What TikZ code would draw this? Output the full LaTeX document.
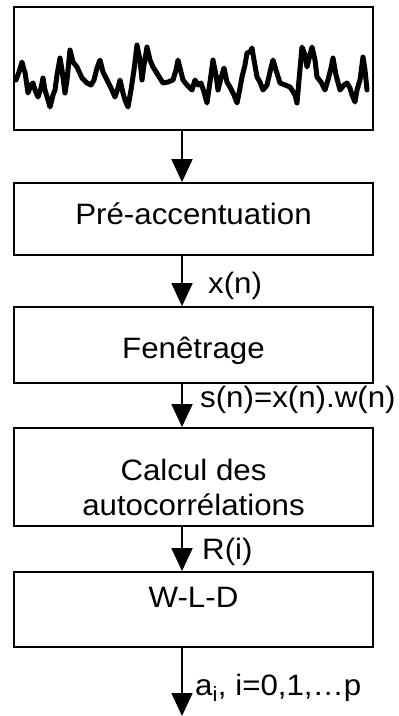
\documentclass[tikz,border=0pt]{standalone}
\usepackage{fontspec}
\setmainfont[FakeStretch=1.06]{Liberation Sans}
\usetikzlibrary{arrows.meta}
\begin{document}
\begin{tikzpicture}[x=1pt,y=-1pt,
  box/.style={draw,line width=1.8pt,inner sep=0pt,minimum width=359pt},
  flow/.style={line width=1.8pt,-{Triangle[width=21pt,length=23pt]}},
  txt/.style={font=\fontsize{29.5}{34}\selectfont,inner sep=0pt,anchor=base},
  lbl/.style={font=\fontsize{29.5}{34}\selectfont,inner sep=0pt,anchor=base west},
  wave/.style={line width=5pt,line join=round,line cap=round}]
\useasboundingbox (0,0) rectangle (399,716);
\coordinate (ax) at (182,0);
\node[box,minimum height=123pt] (sig) at (193.5,68.5) {};
\node[box,minimum height=72pt] (pre) at (193.5,219) {};
\node[box,minimum height=76pt] (fen) at (193.5,345) {};
\node[box,minimum height=98pt] (cal) at (193.5,477) {};
\node[box,minimum height=75pt] (wld) at (193.5,609.5) {};
\coordinate (end) at (182,716);
% signal
\draw[wave] plot coordinates {(16,80)(19,72)(22,62)(24,70)(25,72)(28,93)(31,85)(33,83)(35,90)(38,97)(41,88)(43,78)(45,90)(48,100)(50,107)(53,95)(55,90)(57,75)(60,58)(62,70)(65,93)(67,80)(70,50)(73,62)(77,67)(82,78)(87,83)(91,85)(94,80)(97,68)(100,60)(103,72)(107,80)(111,88)(115,97)(118,88)(120,80)(123,93)(125,100)(128,107)(131,90)(134,70)(137,45)(140,60)(142,80)(144,65)(147,47)(150,60)(153,67)(158,75)(163,83)(168,82)(173,80)(176,70)(178,60)(181,72)(183,80)(187,85)(192,90)(195,80)(198,85)(201,83)(204,92)(207,103)(210,82)(213,60)(216,75)(218,90)(221,78)(224,68)(227,82)(230,87)(234,95)(237,103)(240,88)(242,77)(245,65)(247,53)(250,52)(252,48)(254,60)(257,77)(260,82)(263,90)(267,85)(270,72)(273,60)(276,70)(280,83)(285,85)(290,87)(292,90)(295,95)(297,103)(299,80)(302,47)(305,55)(307,67)(310,55)(312,47)(315,60)(317,77)(321,82)(325,90)(328,80)(331,68)(333,58)(336,75)(340,90)(344,85)(347,83)(350,88)(352,95)(355,102)(357,90)(360,80)(363,57)(365,70)(367,90)};
% texts
\node[txt] (t2) at (193.5,224) {Pré-accentuation};
\node[txt] (t3) at (193.5,358) {Fenêtrage};
\node[txt] (t4a) at (193.5,480) {Calcul des};
\node[txt] (t4b) at (193.5,515) {autocorrélations};
\node[txt] (t5) at (193.5,607) {W-L-D};
% arrows
\draw[flow] (sig.south -| ax) -- (pre.north -| ax);
\draw[flow] (pre.south -| ax) -- (fen.north -| ax);
\draw[flow] (fen.south -| ax) -- (cal.north -| ax);
\draw[flow] (cal.south -| ax) -- (wld.north -| ax);
\draw[flow] (wld.south -| ax) -- (end);
% labels
\node[lbl] (l1) at (208,293) {x(n)};
\node[lbl] (l2) at (200,407) {s(n)=x(n).w(n)};
\node[lbl] (l3) at (202,559) {R(i)};
\node[lbl] (l4) at (195,695) {a\textsubscript{i}, i=0,1,\ldots p};
\end{tikzpicture}
\end{document}
